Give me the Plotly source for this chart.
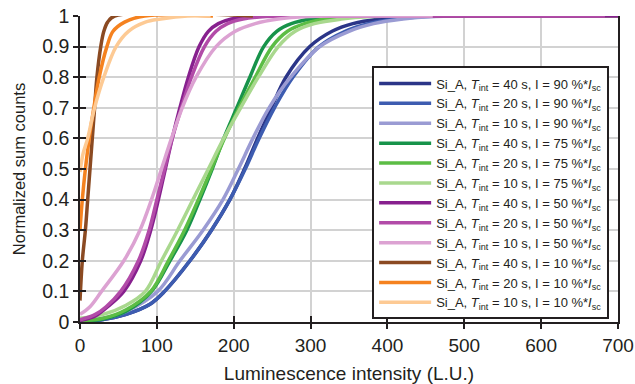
import plotly.graph_objects as go

# ---- data (luminescence intensity, normalized sum counts) ----
x_90_40 = [0, 30, 60, 91, 110, 143, 171, 195, 214, 231, 249, 268, 299, 328, 355, 390, 430, 470, 700]
y_90_40 = [0.003, 0.008, 0.025, 0.058, 0.1, 0.2, 0.3, 0.4, 0.5, 0.6, 0.7, 0.8, 0.9, 0.95, 0.975, 0.99, 0.998, 1, 1]

x_90_20 = [0, 30, 60, 91, 110, 143, 171, 195, 215, 233, 253, 277, 311, 345, 375, 412, 450, 490, 700]
y_90_20 = [0.003, 0.008, 0.025, 0.058, 0.1, 0.2, 0.3, 0.4, 0.5, 0.6, 0.7, 0.8, 0.9, 0.95, 0.975, 0.99, 0.998, 1, 1]

x_90_10 = [0, 30, 60, 101, 130, 160, 186, 206, 225, 246, 274, 312, 350, 382, 420, 460, 500, 700]
y_90_10 = [0.005, 0.012, 0.035, 0.1, 0.2, 0.3, 0.4, 0.5, 0.6, 0.7, 0.8, 0.9, 0.95, 0.975, 0.99, 0.998, 1, 1]

x_75_40 = [0, 30, 60, 93, 117, 139, 156, 172, 187, 204, 221, 239, 256, 275, 300, 340, 380, 700]
y_75_40 = [0.003, 0.01, 0.035, 0.1, 0.2, 0.3, 0.4, 0.5, 0.6, 0.7, 0.8, 0.9, 0.95, 0.975, 0.99, 0.999, 1, 1]

x_75_20 = [0, 30, 60, 92, 115, 136, 154, 171, 188, 207, 228, 250, 270, 292, 320, 360, 400, 700]
y_75_20 = [0.005, 0.012, 0.04, 0.1, 0.2, 0.3, 0.4, 0.5, 0.6, 0.7, 0.8, 0.9, 0.95, 0.975, 0.99, 0.998, 1, 1]

x_75_10 = [0, 30, 60, 85, 106, 127, 147, 167, 187, 209, 232, 258, 280, 305, 340, 380, 420, 700]
y_75_10 = [0.012, 0.025, 0.055, 0.1, 0.2, 0.3, 0.4, 0.5, 0.6, 0.7, 0.8, 0.9, 0.95, 0.975, 0.99, 0.998, 1, 1]

x_50_40 = [0, 20, 36, 57, 79, 92, 102, 111, 120, 130, 141, 155, 167, 180, 197, 222, 260, 700]
y_50_40 = [0.005, 0.02, 0.05, 0.1, 0.2, 0.3, 0.4, 0.5, 0.6, 0.7, 0.8, 0.9, 0.95, 0.975, 0.99, 0.998, 1, 1]

x_50_20 = [0, 20, 34, 53, 76, 90, 100, 110, 120, 132, 145, 162, 177, 192, 212, 242, 280, 683]
y_50_20 = [0.007, 0.025, 0.05, 0.1, 0.2, 0.3, 0.4, 0.5, 0.6, 0.7, 0.8, 0.9, 0.95, 0.975, 0.99, 0.998, 1, 1]

x_50_10 = [0, 13, 28, 57, 78, 93, 106, 119, 133, 151, 177, 202, 228, 258, 298, 340, 459]
y_50_10 = [0.025, 0.05, 0.1, 0.2, 0.3, 0.4, 0.5, 0.6, 0.7, 0.8, 0.9, 0.95, 0.975, 0.99, 0.998, 1, 1]

x_10_40 = [0, 3, 7, 10, 13, 16, 19, 22, 27, 31, 36, 45, 225]
y_10_40 = [0.07, 0.2, 0.3, 0.4, 0.5, 0.6, 0.7, 0.8, 0.9, 0.95, 0.98, 1, 1]

x_10_20 = [0, 3, 7, 12, 18, 25, 35, 43, 58, 84, 173]
y_10_20 = [0.3, 0.4, 0.5, 0.6, 0.7, 0.8, 0.9, 0.95, 0.98, 1, 1]

x_10_10 = [0, 4, 10, 19, 31, 47, 63, 85, 105, 140, 170]
y_10_10 = [0.49, 0.55, 0.6, 0.7, 0.8, 0.9, 0.95, 0.98, 0.99, 1, 1]

t_int = [40, 20, 10, 40, 20, 10, 40, 20, 10, 40, 20, 10]
intensity = [90, 90, 90, 75, 75, 75, 50, 50, 50, 10, 10, 10]
colors = ["#2b3588", "#3d5cb0", "#9a9bd3",
          "#17934a", "#5cbd45", "#a9d88e",
          "#87208e", "#b24ba8", "#dca2d2",
          "#8b4a22", "#f5821f", "#fdca94"]
xs = [x_90_40, x_90_20, x_90_10, x_75_40, x_75_20, x_75_10,
      x_50_40, x_50_20, x_50_10, x_10_40, x_10_20, x_10_10]
ys = [y_90_40, y_90_20, y_90_10, y_75_40, y_75_20, y_75_10,
      y_50_40, y_50_20, y_50_10, y_10_40, y_10_20, y_10_10]

x_ticks = [0, 100, 200, 300, 400, 500, 600, 700]
y_ticks = [0, 0.1, 0.2, 0.3, 0.4, 0.5, 0.6, 0.7, 0.8, 0.9, 1]

FONT = "Liberation Sans, Arial, Helvetica, sans-serif"
INK = "#231f20"
fig = go.Figure()
for x, y, t, i, c in zip(xs, ys, t_int, intensity, colors):
    name = f"Si_A, <i>T</i><sub>int</sub> = {t} s, I = {i} %*<i>I</i><sub>sc</sub>"
    fig.add_trace(go.Scatter(x=x, y=y, mode="lines", name=name,
                             line=dict(color=c, width=3.5, shape="spline", smoothing=1.0)))

# overlay axes used only to draw the inward half of the crossing ticks
fig.add_trace(go.Scatter(x=[], y=[], xaxis="x2", yaxis="y2", showlegend=False))

fig.update_layout(
    width=635, height=384,
    margin=dict(l=80, r=17, t=16, b=62),
    paper_bgcolor="white", plot_bgcolor="white",
    font=dict(family=FONT, color=INK, size=19),
    xaxis=dict(range=[0, 700], tickvals=x_ticks, showgrid=True, gridcolor="#d2d2d2", gridwidth=1.5,
               showline=True, linecolor=INK, linewidth=1.5, mirror=False, automargin=False,
               ticks="outside", ticklen=5, tickwidth=1.5, tickcolor=INK,
               tickfont=dict(size=19),
               title=dict(text="Luminescence intensity (L.U.)", font=dict(size=19), standoff=16),
               zeroline=False),
    yaxis=dict(range=[0, 1], tickvals=y_ticks, showgrid=True, gridcolor="#d2d2d2", gridwidth=1.5,
               showline=True, linecolor=INK, linewidth=1.5, mirror=True, automargin=False,
               ticks="outside", ticklen=5, tickwidth=1.5, tickcolor=INK,
               tickfont=dict(size=19.5),
               title=dict(text="Normalized sum counts", font=dict(size=16.5), standoff=12),
               zeroline=False),
    xaxis2=dict(overlaying="x", anchor="y2", range=[0, 700], tickvals=x_ticks, showgrid=False,
                showticklabels=False, ticks="inside", ticklen=6, tickwidth=1.5, automargin=False,
                tickcolor=INK, showline=False, zeroline=False),
    yaxis2=dict(overlaying="y", anchor="x2", range=[0, 1], tickvals=y_ticks, showgrid=False,
                showticklabels=False, ticks="inside", ticklen=6, tickwidth=1.5, automargin=False,
                tickcolor=INK, showline=False, zeroline=False),
    legend=dict(x=0.543, y=0.835, xanchor="left", yanchor="top",
                bgcolor="white", bordercolor=INK, borderwidth=2,
                font=dict(size=13, family=FONT, color=INK),
                itemwidth=52, tracegroupgap=0),
    showlegend=True,
)

fig.write_html("out.html")
